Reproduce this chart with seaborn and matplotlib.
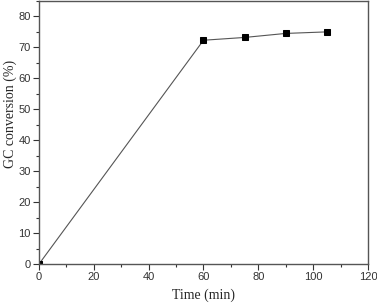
import matplotlib
matplotlib.use("Agg")
import matplotlib.pyplot as plt
from matplotlib.ticker import MultipleLocator
import seaborn as sns
import pandas as pd

# data
time_min = [0, 60, 75, 90, 105]
conversion = [0.0, 72.3, 73.2, 74.5, 75.0]

df = pd.DataFrame({"time": time_min, "conv": conversion})

sns.set_style("ticks")
plt.rcParams["font.family"] = ["Liberation Sans", "DejaVu Sans"]

fig = plt.figure(figsize=(3.77, 3.06), dpi=100)
ax = fig.add_axes([0.1034, 0.137, 0.8726, 0.860])

sns.lineplot(data=df, x="time", y="conv", ax=ax, color="#555555",
             linewidth=0.8, marker="s", markersize=5,
             markerfacecolor="black", markeredgecolor="black")

ax.set_xlim(0, 120)
ax.set_ylim(0, 85)
ax.xaxis.set_major_locator(MultipleLocator(20))
ax.xaxis.set_minor_locator(MultipleLocator(10))
ax.yaxis.set_major_locator(MultipleLocator(10))
ax.yaxis.set_minor_locator(MultipleLocator(5))
ax.tick_params(which="major", direction="out", length=4, width=0.8,
               labelsize=8, colors="#333333", pad=2)
ax.tick_params(which="minor", direction="out", length=2.5, width=0.8,
               colors="#333333")

for s in ax.spines.values():
    s.set_visible(True)
    s.set_linewidth(1.0)
    s.set_color("#555555")

ax.set_xlabel("Time (min)", family="Liberation Serif", fontsize=10)
ax.set_ylabel("GC conversion (%)", family="Liberation Serif", fontsize=10)
ax.yaxis.set_label_coords(-0.068, 0.57)
ax.xaxis.set_label_coords(0.5, -0.092)

fig.savefig("out.png", dpi=100)
